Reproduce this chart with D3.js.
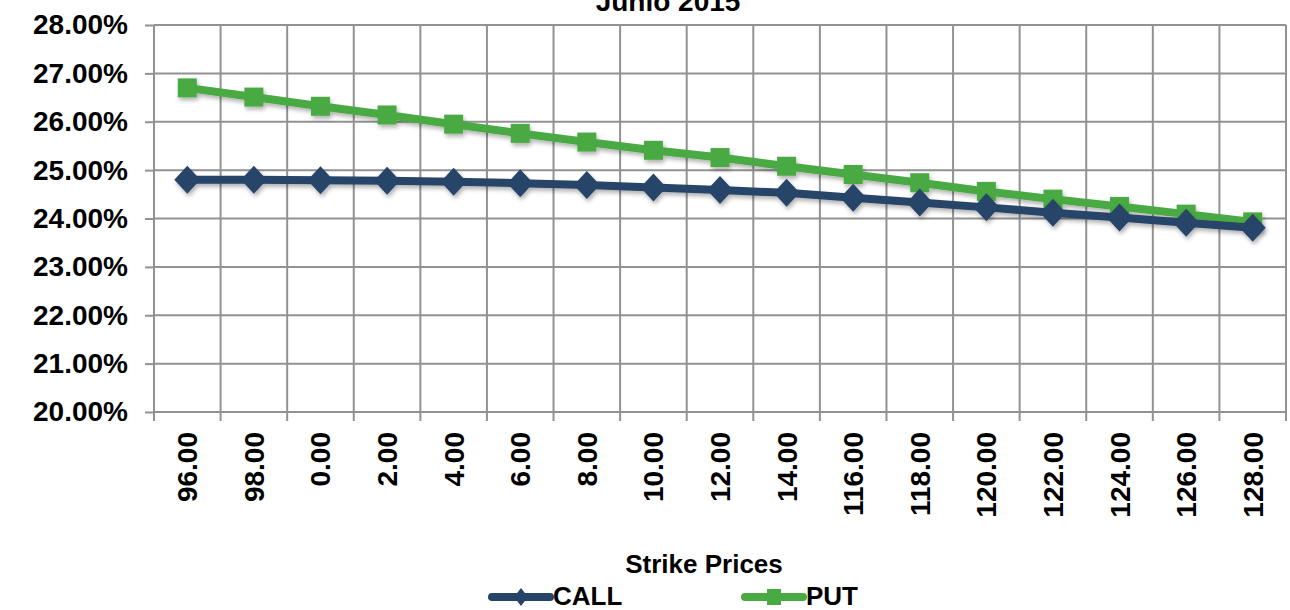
<!DOCTYPE html>
<html>
<head>
<meta charset="utf-8">
<script src="https://cdn.jsdelivr.net/npm/d3@7"></script>
<style>
  body { margin: 0; background: #fff; }
  svg { display: block; font-family: "Liberation Sans", Arial, sans-serif; font-weight: bold; }
</style>
</head>
<body>
<svg id="chart"></svg>
<script>
// data
const strikes = ["96.00", "98.00", "0.00", "2.00", "4.00", "6.00", "8.00", "10.00", "12.00", "14.00",
  "116.00", "118.00", "120.00", "122.00", "124.00", "126.00", "128.00"];
const callVol = [24.80, 24.80, 24.79, 24.78, 24.76, 24.73, 24.69, 24.64, 24.59, 24.53,
  24.43, 24.33, 24.23, 24.12, 24.02, 23.91, 23.81];
const putVol = [26.70, 26.51, 26.32, 26.14, 25.95, 25.76, 25.58, 25.41, 25.26, 25.08,
  24.91, 24.74, 24.56, 24.40, 24.25, 24.09, 23.93];
const yTicks = [0.20, 0.21, 0.22, 0.23, 0.24, 0.25, 0.26, 0.27, 0.28];

const width = 1290;
const height = 610;
const plotLeft = 154, plotRight = 1286, plotTop = 25, plotBottom = 412;
const gridColor = "#929292";
const callColor = "#264469";
const putColor = "#49a942";

const svg = d3.select("#chart").attr("width", width).attr("height", height);

// soft shadow like the office chart
const defs = svg.append("defs");
defs.append("filter").attr("id", "shadow")
  .attr("x", "-20%").attr("y", "-20%").attr("width", "140%").attr("height", "160%")
  .append("feDropShadow")
  .attr("dx", 1.5).attr("dy", 3).attr("stdDeviation", 2)
  .attr("flood-color", "#000").attr("flood-opacity", 0.3);

const x = d3.scaleBand().domain(strikes).range([plotLeft, plotRight]);
const y = d3.scaleLinear().domain([0.20, 0.28]).range([plotBottom, plotTop]);

// horizontal gridlines
svg.append("g").selectAll("line")
  .data(yTicks)
  .enter().append("line")
  .attr("x1", plotLeft).attr("x2", plotRight)
  .attr("y1", d => y(d)).attr("y2", d => y(d))
  .attr("stroke", gridColor).attr("stroke-width", 2);

// vertical gridlines at category boundaries
const edges = strikes.map(s => x(s)).concat([x(strikes[strikes.length - 1]) + x.bandwidth()]);
svg.append("g").selectAll("line")
  .data(edges)
  .enter().append("line")
  .attr("x1", d => d).attr("x2", d => d)
  .attr("y1", plotTop).attr("y2", plotBottom + 9)
  .attr("stroke", gridColor).attr("stroke-width", 2);

// y axis
const yAxis = svg.append("g")
  .attr("transform", `translate(${plotLeft},0)`)
  .call(d3.axisLeft(y).tickValues(yTicks).tickFormat(d3.format(".2%")).tickSize(9).tickPadding(17));
yAxis.select(".domain").remove();
yAxis.selectAll(".tick line").attr("stroke", gridColor).attr("stroke-width", 2);
yAxis.selectAll("text")
  .attr("fill", "#000")
  .style("font-size", "28px")
  .style("font-family", "Liberation Sans, Arial, sans-serif")
  .style("font-weight", "bold");

// x axis labels, rotated
const xAxis = svg.append("g")
  .attr("transform", `translate(0,${plotBottom})`)
  .call(d3.axisBottom(x).tickSize(0));
xAxis.select(".domain").remove();
xAxis.selectAll("text")
  .attr("fill", "#000")
  .attr("transform", "translate(10,20) rotate(-90)")
  .attr("x", 0).attr("y", 0).attr("dy", 0)
  .style("text-anchor", "end")
  .style("font-size", "28px")
  .style("font-family", "Liberation Sans, Arial, sans-serif")
  .style("font-weight", "bold");

const cx = d => x(d) + x.bandwidth() / 2;

const lineGen = d3.line()
  .x((d, i) => cx(strikes[i]))
  .y(d => y(d / 100));

// PUT series
const putG = svg.append("g").attr("filter", "url(#shadow)");
putG.append("path")
  .datum(putVol)
  .attr("d", lineGen)
  .attr("fill", "none").attr("stroke", putColor).attr("stroke-width", 8)
  .attr("stroke-linejoin", "round");
putG.selectAll("rect")
  .data(putVol)
  .enter().append("rect")
  .attr("x", (d, i) => cx(strikes[i]) - 9.5)
  .attr("y", d => y(d / 100) - 9.5)
  .attr("width", 19).attr("height", 19)
  .attr("fill", putColor);

// CALL series
const callG = svg.append("g").attr("filter", "url(#shadow)");
callG.append("path")
  .datum(callVol)
  .attr("d", lineGen)
  .attr("fill", "none").attr("stroke", callColor).attr("stroke-width", 8)
  .attr("stroke-linejoin", "round");
callG.selectAll("path.mk")
  .data(callVol)
  .enter().append("path")
  .attr("class", "mk")
  .attr("d", "M0,-14L13,0L0,14L-13,0Z")
  .attr("transform", (d, i) => `translate(${cx(strikes[i])},${y(d / 100)})`)
  .attr("fill", callColor);

// title (cut at the top, as in the original)
svg.append("text")
  .attr("x", 668).attr("y", 11)
  .attr("text-anchor", "middle")
  .style("font-size", "28px")
  .text("Junio 2015");

// axis title
svg.append("text")
  .attr("x", 704).attr("y", 573)
  .attr("text-anchor", "middle")
  .style("font-size", "26px")
  .text("Strike Prices");

// legend
const legendItems = [
  { name: "CALL", color: callColor, shape: "diamond", x: 492 },
  { name: "PUT", color: putColor, shape: "square", x: 745 }
];
const lg = svg.append("g").selectAll("g")
  .data(legendItems)
  .enter().append("g")
  .attr("transform", d => `translate(${d.x},597)`);
lg.append("line")
  .attr("x1", 0).attr("x2", 58).attr("y1", 0).attr("y2", 0)
  .attr("stroke", d => d.color).attr("stroke-width", 8).attr("stroke-linecap", "round");
lg.append("path")
  .attr("d", d => d.shape === "diamond" ? "M29,-9L36,0L29,9L22,0Z" : "M22,-8H36V8H22Z")
  .attr("fill", d => d.color);
lg.append("text")
  .attr("x", 61).attr("y", 8)
  .style("font-size", "26px")
  .text(d => d.name);
</script>
</body>
</html>
